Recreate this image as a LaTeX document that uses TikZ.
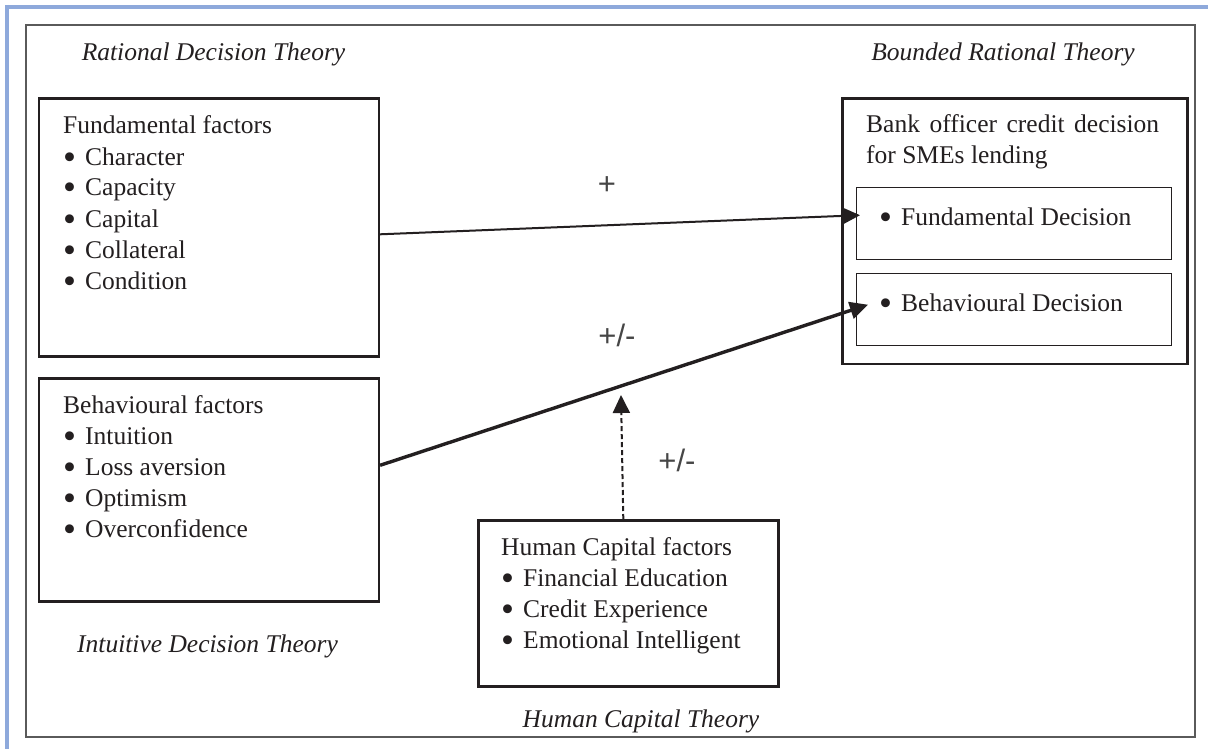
\documentclass[tikz,border=0pt]{standalone}
\usepackage{fontspec}
\usepackage{graphicx}
\setmainfont{Liberation Serif}
\newfontfamily\signfont{Liberation Sans}
\usetikzlibrary{arrows.meta}
\definecolor{txt}{RGB}{35,31,32}
\definecolor{frame}{RGB}{90,90,90}
\definecolor{bluebar}{RGB}{142,169,219}
\definecolor{signc}{RGB}{70,70,70}
\tikzset{
  box/.style={draw=txt, line width=2.6pt, rectangle, inner sep=0pt, anchor=north west},
  innerbox/.style={draw=txt, line width=1.4pt, rectangle, inner sep=0pt, anchor=north west},
  lbl/.style={inner sep=0pt, anchor=base west, text=txt, font=\fontsize{25.5}{31}\selectfont},
  theory/.style={inner sep=0pt, anchor=base, text=txt, font=\fontsize{25.5}{31}\selectfont\itshape},
  sign/.style={inner sep=0pt, text=signc, font=\signfont\fontsize{31}{36}\selectfont},
  conn/.style={draw=txt, -{Triangle[length=18pt,width=17pt]}},
}
\newcommand{\bul}[1]{\makebox[22pt][l]{\smash{\raisebox{-4pt}{\scalebox{1.45}{\textbullet}}}}#1}
\begin{document}
\begin{tikzpicture}[x=1pt,y=-1pt]
\useasboundingbox (0,0) rectangle (1208,749);
\fill[white] (0,0) rectangle (1208,749);
% blue page edge
\draw[bluebar, line width=4pt] (5,7) -- (1208,7);
\draw[bluebar, line width=4pt] (7,5) -- (7,749);
% outer frame
\draw[frame, line width=1.6pt] (26,25) rectangle (1195,737);

% theory labels
\node[theory] (rdt) at (213.5,61) {Rational Decision Theory};
\node[theory] (brt) at (1003,61) {Bounded Rational Theory};
\node[theory] (idt) at (207.5,652) {Intuitive Decision Theory};
\node[theory] (hct) at (641,727) {Human Capital Theory};

% boxes
\node[box, minimum width=340pt, minimum height=258pt] (fund) at (37.5,97) {};
\node[box, minimum width=340pt, minimum height=223pt] (beh) at (37.5,377) {};
\node[box, minimum width=300pt, minimum height=166pt] (hc) at (477,519) {};
\node[box, minimum width=345pt, minimum height=265pt] (bank) at (841,97.5) {};
\node[innerbox, minimum width=315pt, minimum height=72pt] (fd) at (855.5,187) {};
\node[innerbox, minimum width=315pt, minimum height=72pt] (bd) at (855.5,272.5) {};

% fundamental factors
\node[lbl] (fh) at (63,134) {Fundamental factors};
\foreach \t [count=\i] in {Character,Capacity,Capital,Collateral,Condition}
  \node[lbl] (f\i) at (63,134+31*\i) {\bul{\t}};

% behavioural factors
\node[lbl] (bh) at (63,413) {Behavioural factors};
\foreach \t [count=\i] in {Intuition,Loss aversion,Optimism,Overconfidence}
  \node[lbl] (b\i) at (63,413+31*\i) {\bul{\t}};

% human capital factors
\node[lbl] (hh) at (501,555) {Human Capital factors};
\foreach \t [count=\i] in {Financial Education,Credit Experience,Emotional Intelligent}
  \node[lbl] (h\i) at (501,555+31*\i) {\bul{\t}};

% bank officer decision
\node[lbl, text width=293pt, align=justify, anchor=base west] (bt) at (866,133) {Bank officer credit decision for SMEs lending};
\node[lbl] (fdt) at (879,225) {\bul{Fundamental Decision}};
\node[lbl] (bdt) at (879,311) {\bul{Behavioural Decision}};

% connectors
\coordinate (t1) at ([xshift=4.5pt,yshift=8.5pt]fd.west);
\coordinate (t2) at ([xshift=12.5pt,yshift=4.5pt]bd.west);
\coordinate (s1) at ([yshift=-7pt]fund.east);
\coordinate (s2) at ([yshift=24.5pt]beh.east);
\draw[conn, line width=2pt] (s1) -- (t1);
\draw[conn, line width=3.4pt] (s2) -- (t2);
\coordinate (mod) at (621,395);
\draw[conn, line width=2pt, dash pattern=on 5pt off 3pt] ([xshift=-5pt]hc.north) -- (mod);

% signs
\node[sign] (p1) at (607,186) {+};
\node[sign] (p2) at (617,335) {+/-};
\node[sign] (p3) at (677,460) {+/-};
\end{tikzpicture}
\end{document}
